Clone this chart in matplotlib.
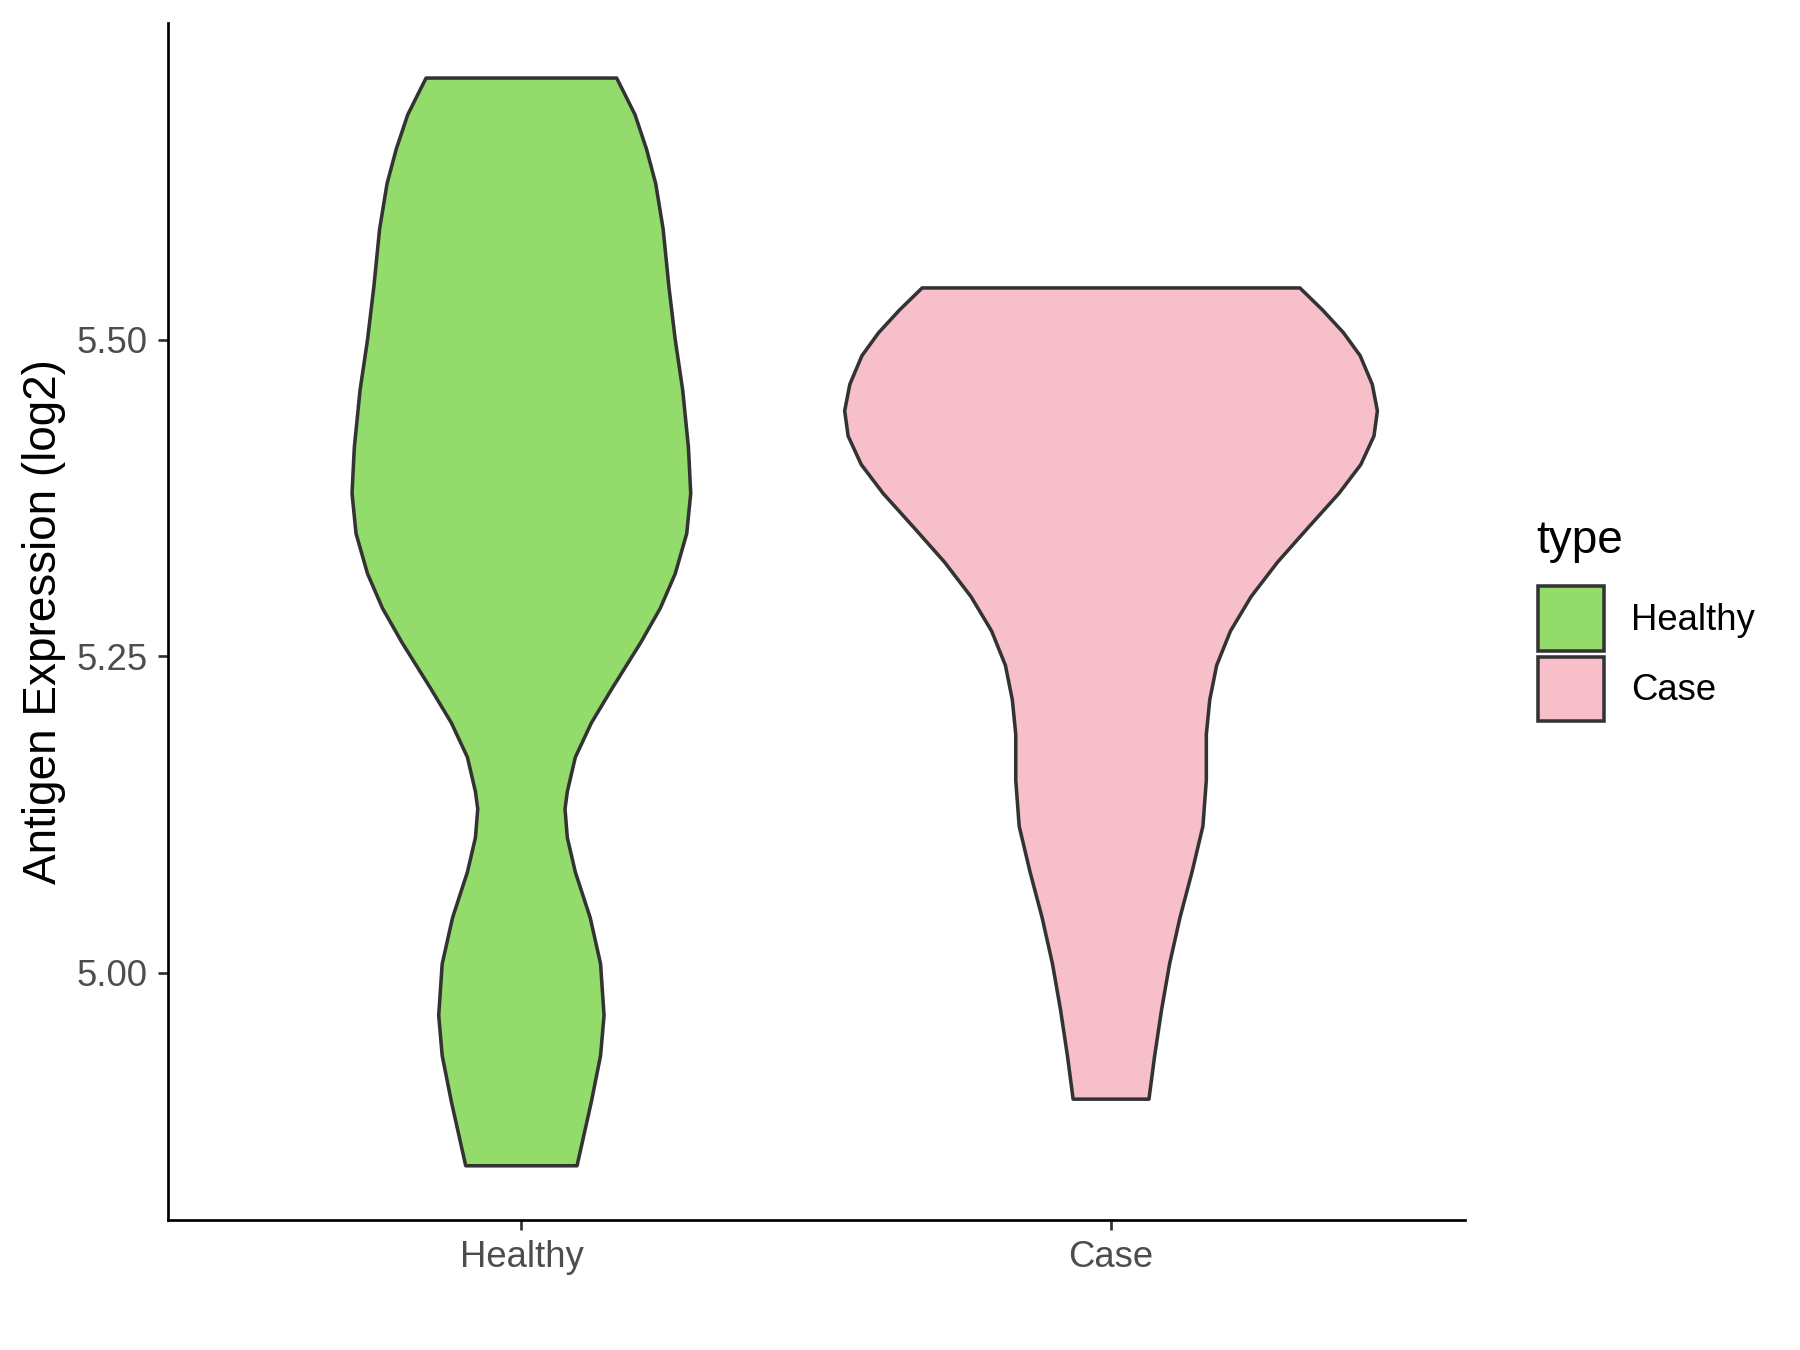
import numpy as np
import matplotlib
matplotlib.use('Agg')
import matplotlib.pyplot as plt
from matplotlib.patches import Patch

plt.rcParams['font.family'] = ['Liberation Sans', 'DejaVu Sans']

groups = ['Healthy', 'Case']
colors = ['#93DB6A', '#F7BFCA']

# violin outlines: y level and half width (x units)
healthy_y = [5.7065, 5.6957, 5.6775, 5.6504, 5.6232, 5.5870, 5.5417, 5.5000,
             5.4601, 5.4149, 5.3786, 5.3469, 5.3152, 5.2880, 5.2609, 5.2246,
             5.1975, 5.1703, 5.1431, 5.1295, 5.1069, 5.0797, 5.0435, 5.0072,
             4.9665, 4.9348, 4.8986, 4.8478]
healthy_w = [0.1616, 0.1733, 0.1928, 0.2122, 0.2278, 0.2405, 0.2502, 0.2609,
             0.2736, 0.2833, 0.2872, 0.2804, 0.2609, 0.2356, 0.2025, 0.1538,
             0.1188, 0.0915, 0.0779, 0.0740, 0.0779, 0.0915, 0.1168, 0.1343,
             0.1402, 0.1343, 0.1188, 0.0944]

case_y = [5.5408, 5.5236, 5.5054, 5.4873, 5.4647, 5.4438, 5.4239, 5.4013,
          5.3786, 5.3514, 5.3243, 5.2971, 5.2699, 5.2428, 5.2156, 5.1884,
          5.1522, 5.1159, 5.0797, 5.0435, 5.0072, 4.9710, 4.9348, 4.9004]
case_w = [0.3203, 0.3583, 0.3943, 0.4225, 0.4430, 0.4517, 0.4459, 0.4235,
          0.3865, 0.3339, 0.2823, 0.2375, 0.2025, 0.1791, 0.1674, 0.1616,
          0.1616, 0.1558, 0.1373, 0.1168, 0.0993, 0.0857, 0.0740, 0.0643]

outlines = [(healthy_y, healthy_w), (case_y, case_w)]

fig = plt.figure(figsize=(12, 9), dpi=150)
ax = fig.add_axes([0.0931, 0.0963, 0.7207, 0.8867])

for i, (ys, ws) in enumerate(outlines):
    pos = i + 1
    ys = np.array(ys)
    ws = np.array(ws)
    xs = np.concatenate([pos - ws, (pos + ws)[::-1]])
    yy = np.concatenate([ys, ys[::-1]])
    ax.fill(xs, yy, facecolor=colors[i], edgecolor='#333333', lw=1.7,
            joinstyle='round')

ax.set_xlim(0.4, 2.6)
ax.set_ylim(4.805, 5.75)
ax.set_xticks([1, 2])
ax.set_xticklabels(groups)
ax.set_yticks([5.0, 5.25, 5.5])
ax.set_yticklabels(['5.00', '5.25', '5.50'])
ax.tick_params(colors='#333333', labelcolor='#4D4D4D', labelsize=17.5,
               length=5, width=1.3, pad=4.5)
ax.set_ylabel('Antigen Expression (log2)', fontsize=22, labelpad=5)
for s in ['top', 'right']:
    ax.spines[s].set_visible(False)
for s in ['left', 'bottom']:
    ax.spines[s].set_linewidth(1.3)

# legend: title as own text, keys below
fig.text(0.8533, 0.5995, 'type', fontsize=22, va='center', ha='left')
handles = [Patch(facecolor=c, edgecolor='#333333', lw=1.7, label=g)
           for c, g in zip(colors, groups)]
leg = fig.legend(handles=handles, loc='center left',
                 bbox_to_anchor=(0.8545, 0.5157), frameon=False, fontsize=17.5,
                 handlelength=1.8, handleheight=2.35, labelspacing=0.15,
                 handletextpad=0.75, borderaxespad=0, borderpad=0)

fig.savefig('out.png', dpi=150)
